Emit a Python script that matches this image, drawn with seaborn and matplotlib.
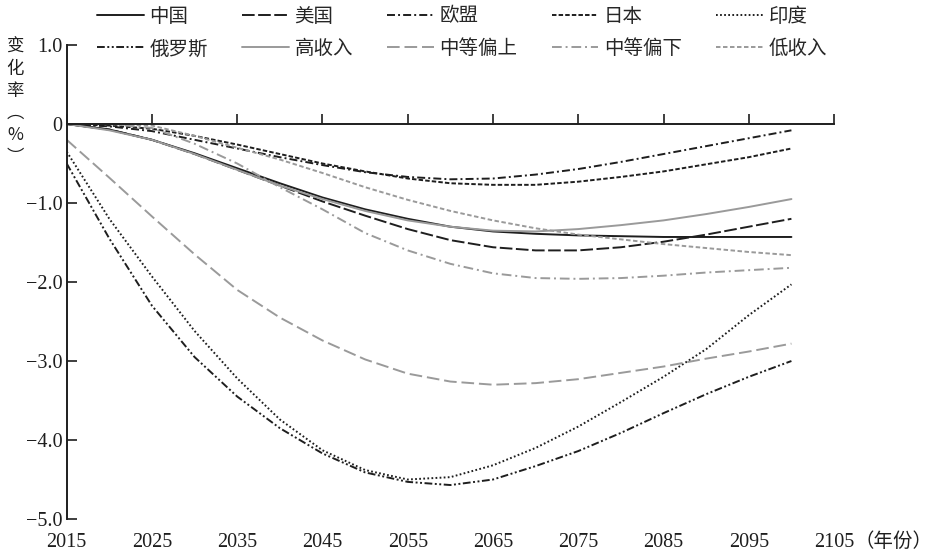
import numpy as np
import pandas as pd
import matplotlib
matplotlib.use("Agg")
import matplotlib.pyplot as plt
import seaborn as sns

# --- data (percent change, 5-year steps) ---
years = [2015, 2020, 2025, 2030, 2035, 2040, 2045, 2050, 2055,
         2060, 2065, 2070, 2075, 2080, 2085, 2090, 2095, 2100]

china = [0, -0.07, -0.2, -0.37, -0.56, -0.75, -0.93, -1.08, -1.2,
         -1.3, -1.36, -1.39, -1.41, -1.42, -1.43, -1.43, -1.43, -1.43]
usa = [0, -0.07, -0.2, -0.38, -0.58, -0.78, -0.98, -1.16, -1.33,
       -1.47, -1.56, -1.6, -1.6, -1.56, -1.49, -1.4, -1.3, -1.2]
eu = [0, -0.03, -0.09, -0.2, -0.31, -0.42, -0.52, -0.61, -0.67,
      -0.7, -0.69, -0.64, -0.57, -0.48, -0.38, -0.28, -0.18, -0.08]
japan = [0, -0.02, -0.06, -0.15, -0.26, -0.38, -0.5, -0.6, -0.69,
         -0.75, -0.77, -0.77, -0.73, -0.67, -0.6, -0.51, -0.42, -0.31]
india = [-0.35, -1.2, -1.93, -2.62, -3.22, -3.74, -4.13, -4.38, -4.5,
         -4.47, -4.32, -4.1, -3.83, -3.52, -3.2, -2.85, -2.42, -2.03]
russia = [-0.5, -1.45, -2.3, -2.95, -3.45, -3.85, -4.17, -4.41, -4.53,
          -4.57, -4.5, -4.33, -4.14, -3.91, -3.66, -3.42, -3.2, -3.0]
high_income = [0, -0.08, -0.2, -0.38, -0.58, -0.78, -0.95, -1.1, -1.22,
               -1.3, -1.35, -1.36, -1.33, -1.28, -1.22, -1.14, -1.05, -0.95]
upper_middle = [-0.2, -0.68, -1.17, -1.65, -2.1, -2.45, -2.74, -2.98, -3.16,
                -3.26, -3.3, -3.28, -3.23, -3.15, -3.07, -2.97, -2.88, -2.78]
lower_middle = [0, 0, -0.05, -0.25, -0.5, -0.8, -1.08, -1.38, -1.6,
                -1.77, -1.89, -1.95, -1.96, -1.95, -1.92, -1.88, -1.85, -1.82]
low_income = [0, 0, -0.02, -0.15, -0.3, -0.45, -0.62, -0.8, -0.96,
              -1.1, -1.22, -1.32, -1.4, -1.46, -1.52, -1.57, -1.62, -1.66]

labels = ['中国', '美国', '欧盟', '日本', '印度',
          '俄罗斯', '高收入', '中等偏上', '中等偏下', '低收入']
series = [china, usa, eu, japan, india,
          russia, high_income, upper_middle, lower_middle, low_income]

xticks = list(range(2015, 2106, 10))
xticklabels = [str(y) for y in xticks]
yticks = [1, 0, -1, -2, -3, -4, -5]
yticklabels = ['1.0', '0', '\u22121.0', '\u22122.0', '\u22123.0', '\u22124.0', '\u22125.0']

# --- styles ---
BLACK = '#1e1e1e'
GRAY = '#9a9a9a'
palette = {'中国': BLACK, '美国': BLACK, '欧盟': BLACK, '日本': BLACK, '印度': BLACK,
           '俄罗斯': BLACK, '高收入': GRAY, '中等偏上': GRAY, '中等偏下': GRAY, '低收入': GRAY}
dashes = {'中国': '', '美国': (6.5, 1.8), '欧盟': (4.1, 1.6, 1, 1.6), '日本': (2.3, 1.1),
          '印度': (0.9, 1.2), '俄罗斯': (4, 1.3, 1, 1.3, 1, 1.3), '高收入': '',
          '中等偏上': (6.5, 2.5), '中等偏下': (5, 2, 1, 2), '低收入': (2.3, 1.3)}

df = pd.concat([pd.DataFrame({'年份': years, '变化率': vals, '地区': lab})
                for lab, vals in zip(labels, series)], ignore_index=True)

sns.set_style('white')
plt.rcParams['font.family'] = ['Liberation Serif', 'Noto Sans CJK SC', 'DejaVu Sans']
plt.rcParams['axes.unicode_minus'] = True

fig = plt.figure(figsize=(9.42, 5.57), dpi=100)
ax = fig.add_axes([0.0708, 0.0682, 0.8146, 0.851])

sns.lineplot(data=df, x='年份', y='变化率', hue='地区', style='地区',
             hue_order=labels, style_order=labels, palette=palette, dashes=dashes,
             linewidth=1.4, estimator=None, legend=False, ax=ax)

ax.set_xlim(2015, 2105)
ax.set_ylim(-5, 1)
ax.set_xlabel('')
ax.set_ylabel('')

# x axis drawn on the zero line, ticks pointing up, labels at bottom
for s in ['top', 'right']:
    ax.spines[s].set_visible(False)
ax.spines['bottom'].set_position(('data', 0))
for s in ['bottom', 'left']:
    ax.spines[s].set_linewidth(1.4)
    ax.spines[s].set_color(BLACK)
ax.set_xticks(xticks)
ax.tick_params(axis='x', bottom=True, direction='in', length=7, width=1.2, color=BLACK,
               labelbottom=False)
ax.set_yticks(yticks)
ax.set_yticklabels(yticklabels)
ax.tick_params(axis='y', left=True, direction='in', length=7, width=1.2, color=BLACK,
               pad=3, labelsize=14.5, labelcolor=BLACK)

sec = ax.secondary_xaxis('bottom')
sec.spines['bottom'].set_visible(False)
sec.set_xticks(xticks)
sec.set_xticklabels(xticklabels)
sec.tick_params(length=0, pad=10, labelsize=14.5, labelcolor=BLACK)

fig.text(855 / 942, 1 - 541 / 557, '（年份）', fontsize=14, va='center', ha='left',
         color=BLACK, family=['Noto Sans CJK SC'])

# vertical y label
fig.text(15 / 942, 1 - 38 / 557, '变\n化\n率\n︵\n%\n︶', fontsize=12.5, va='top', ha='center',
         color=BLACK, linespacing=1.28, family=['Noto Sans CJK SC', 'Liberation Serif'])

# legend: two rows of five
lines = ax.get_lines()[:len(labels)]
order = [0, 5, 1, 6, 2, 7, 3, 8, 4, 9]
ax.legend([lines[i] for i in order], [labels[i] for i in order], ncol=5,
          loc='upper left', bbox_to_anchor=(97 / 942, 0.99), bbox_transform=fig.transFigure,
          frameon=False, borderpad=0, borderaxespad=0, handlelength=2.4,
          handletextpad=0.3, columnspacing=1.75, labelspacing=0.6,
          prop={'family': ['Noto Sans CJK SC'], 'size': 14})

fig.savefig('out.png', dpi=100)
